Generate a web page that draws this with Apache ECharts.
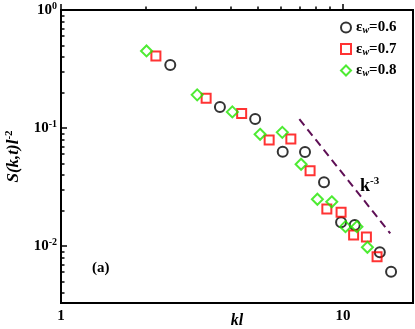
<!DOCTYPE html>
<html>
<head>
<meta charset="utf-8">
<script src="https://cdn.jsdelivr.net/npm/echarts@6/dist/echarts.min.js"></script>
<style>
  html, body { margin: 0; padding: 0; background: #fff; }
  #chart { width: 415px; height: 329px; }
</style>
</head>
<body>
<div id="chart"></div>
<script>
// data (kl, S(k,t) l^-2)
const kl06 = [2.44, 3.66, 4.88, 6.11, 7.33, 8.56, 9.84, 11.0, 13.5, 14.8];
const s06 = [0.342, 0.151, 0.119, 0.063, 0.0626, 0.0347, 0.0159, 0.0151, 0.00885, 0.00605];
const kl07 = [2.17, 3.27, 4.37, 5.47, 6.53, 7.64, 8.76, 9.84, 10.9, 12.1, 13.2];
const s07 = [0.408, 0.179, 0.133, 0.0791, 0.0807, 0.0435, 0.0206, 0.0193, 0.0124, 0.0119, 0.00811];
const kl08 = [2.01, 3.04, 4.05, 5.08, 6.09, 7.1, 8.11, 9.12, 10.2, 11.2, 12.2];
const s08 = [0.45, 0.191, 0.137, 0.0884, 0.0919, 0.0493, 0.0249, 0.0237, 0.0146, 0.0146, 0.00975];
const epsW = ["0.6", "0.7", "0.8"];

// k^-3 guide line
const guideKl = [7, 14.7];
const guideS = [0.119, 0.0128];

// axis ranges and ticks
const xRange = [1, 17.7];
const yRange = [0.00329, 1];
const xMajor = [1, 10];
const xMinor = [2, 3, 4, 5, 6, 7, 8, 9];
const yMajor = [0.01, 0.1, 1];
const yMinor = [0.004, 0.005, 0.006, 0.007, 0.008, 0.009,
  0.02, 0.03, 0.04, 0.05, 0.06, 0.07, 0.08, 0.09,
  0.2, 0.3, 0.4, 0.5, 0.6, 0.7, 0.8, 0.9];

const lg = Math.log10;
const pts = (xs, ys) => xs.map((x, i) => [lg(x), lg(ys[i])]);
const serif = "Liberation Serif";

const box = { left: 61, right: 2, top: 10, bottom: 26, outerBoundsMode: "none", containLabel: false };

// second, invisible grid on the same box only carries the short minor ticks
function minorAxis(range, ticks) {
  return {
    type: "value",
    gridIndex: 1,
    min: lg(range[0]),
    max: lg(range[1]),
    axisLine: { show: false },
    axisTick: { show: true, inside: true, length: 3.5, customValues: ticks.map(lg), lineStyle: { color: "#000", width: 1.5 } },
    axisLabel: { show: false },
    splitLine: { show: false },
  };
}

var myChart = echarts.init(document.getElementById("chart"));

var option = {
  animation: false,
  grid: [
    Object.assign({ show: true, borderColor: "#000", borderWidth: 2 }, box),
    Object.assign({ show: false }, box),
  ],
  legend: {
    data: epsW.map((e) => "εw=" + e),
    orient: "vertical",
    left: 335,
    top: 15,
    itemWidth: 10,
    itemHeight: 10,
    itemGap: 6,
    formatter: (name) => "{e|ε}{w|w}{t|=" + name.split("=")[1] + "}",
    textStyle: {
      rich: {
        e: { fontFamily: serif, fontSize: 15, fontWeight: "bold", color: "#000", lineHeight: 16 },
        w: { fontFamily: serif, fontSize: 10, fontStyle: "italic", fontWeight: "bold", color: "#000", verticalAlign: "bottom" },
        t: { fontFamily: serif, fontSize: 15, fontWeight: "bold", color: "#000" },
      },
    },
  },
  xAxis: [
    {
      type: "value",
      gridIndex: 0,
      min: lg(xRange[0]),
      max: lg(xRange[1]),
      axisLine: { show: true, lineStyle: { color: "#000", width: 2 } },
      axisTick: { show: true, inside: true, length: 6, customValues: xMajor.map(lg), lineStyle: { color: "#000", width: 1.5 } },
      axisLabel: {
        customValues: xMajor.map(lg),
        formatter: (v) => String(Math.round(Math.pow(10, v))),
        margin: 6,
        fontFamily: serif, fontSize: 15, fontWeight: "bold", color: "#000",
      },
      splitLine: { show: false },
      name: "kl",
      nameLocation: "middle",
      nameGap: 10,
      nameMoveOverlap: false,
      nameTextStyle: { fontFamily: serif, fontSize: 16, fontWeight: "bold", fontStyle: "italic", color: "#000", verticalAlign: "top" },
    },
    minorAxis(xRange, xMinor),
  ],
  yAxis: [
    {
      type: "value",
      gridIndex: 0,
      min: lg(yRange[0]),
      max: lg(yRange[1]),
      axisLine: { show: true, lineStyle: { color: "#000", width: 2 } },
      axisTick: { show: true, inside: true, length: 6, customValues: yMajor.map(lg), lineStyle: { color: "#000", width: 1.5 } },
      axisLabel: {
        customValues: yMajor.map(lg),
        formatter: (v) => "{b|10}{s|" + Math.round(v) + "}",
        margin: 4,
        rich: {
          b: { fontFamily: serif, fontSize: 15, fontWeight: "bold", color: "#000", lineHeight: 18 },
          s: { fontFamily: serif, fontSize: 10, fontWeight: "bold", color: "#000", verticalAlign: "top" },
        },
      },
      splitLine: { show: false },
      name: "{a|S(k,t)l}{s|-2}",
      nameLocation: "middle",
      nameGap: 37,
      nameTextStyle: {
        rich: {
          a: { fontFamily: serif, fontSize: 17, fontWeight: "bold", fontStyle: "italic", color: "#000", lineHeight: 20 },
          s: { fontFamily: serif, fontSize: 11, fontWeight: "bold", color: "#000", verticalAlign: "top" },
        },
      },
    },
    minorAxis(yRange, yMinor),
  ],
  graphic: [
    {
      type: "text",
      left: 92,
      top: 261,
      style: { text: "(a)", font: "bold 15px 'Liberation Serif'", fill: "#000" },
    },
    {
      type: "text",
      left: 360,
      top: 176,
      style: {
        text: "{k|k}{s|-3}",
        rich: {
          k: { fontFamily: serif, fontSize: 18, fontWeight: "bold", fill: "#000", lineHeight: 20 },
          s: { fontFamily: serif, fontSize: 11, fontWeight: "bold", fill: "#000", verticalAlign: "top" },
        },
      },
    },
  ],
  series: [
    {
      name: "εw=" + epsW[0],
      type: "scatter",
      symbol: "circle",
      symbolSize: 10,
      itemStyle: { color: "rgba(0,0,0,0)", borderColor: "#000", borderWidth: 2 },
      data: pts(kl06, s06),
      z: 3,
    },
    {
      name: "εw=" + epsW[1],
      type: "scatter",
      symbol: "rect",
      symbolSize: 9,
      itemStyle: { color: "rgba(0,0,0,0)", borderColor: "#ff0000", borderWidth: 2 },
      data: pts(kl07, s07),
      z: 4,
    },
    {
      name: "εw=" + epsW[2],
      type: "scatter",
      symbol: "diamond",
      symbolSize: 11,
      itemStyle: { color: "rgba(0,0,0,0)", borderColor: "#22e600", borderWidth: 2 },
      data: pts(kl08, s08),
      z: 5,
    },
    {
      name: "k-3",
      type: "line",
      showSymbol: false,
      silent: true,
      lineStyle: { color: "#5e0f55", width: 2, type: [8, 5] },
      data: pts(guideKl, guideS),
    },
  ],
};

myChart.setOption(option);
</script>
</body>
</html>
